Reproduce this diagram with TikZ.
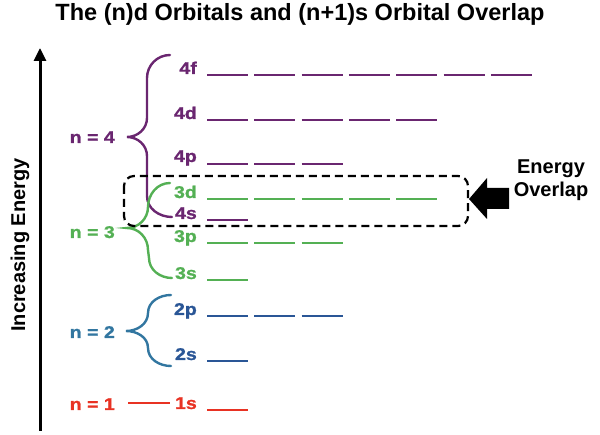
\documentclass[tikz,border=0pt]{standalone}
\usepackage{fontspec}
\setmainfont{Liberation Sans}
\newfontfamily\lblfont[FakeStretch=1.15, FakeBold=1.2]{Liberation Sans}
\usepackage{xcolor}
\usetikzlibrary{arrows.meta}
\definecolor{nfour}{RGB}{106,38,112}
\definecolor{nthree}{RGB}{84,176,84}
\definecolor{ntwo}{RGB}{50,118,160}
\definecolor{ntwoorb}{RGB}{42,86,150}
\definecolor{none}{RGB}{232,50,35}

\begin{document}
\begin{tikzpicture}[x=1pt, y=-1pt,
  lbl/.style={inner sep=0pt, anchor=base east, font=\fontsize{17}{20}\lblfont\bfseries},
  orb/.style={line width=2.6pt},
  brace/.style={line width=2.4pt, line cap=round}]
\useasboundingbox (0,0) rectangle (600,435);
% Title and axis
\node[inner sep=0pt, font=\fontsize{23.5}{26}\selectfont\bfseries] (title) at (300,14) {The (n)d Orbitals and (n+1)s Orbital Overlap};
\coordinate (ebot) at (40,431);
\coordinate (etop) at (40,48);
\draw[line width=3pt, -{Triangle[width=12pt,length=13pt]}] (ebot) -- (etop);
\node[inner sep=0pt, rotate=90, font=\fontsize{20}{23}\selectfont\bfseries] (energy) at (20,245) {Increasing Energy};
% Shell labels
\node[lbl, nfour] (n4) at (115,143) {n = 4};
\node[lbl, nthree] (n3) at (115,238) {n = 3};
\node[lbl, ntwo] (n2) at (115,338) {n = 2};
\node[lbl, none] (n1) at (115,410) {n = 1};
% Orbital labels
\node[lbl, nfour] (o4f) at (197,74) {4f};
\node[lbl, nfour] (o4d) at (197,119) {4d};
\node[lbl, nfour] (o4p) at (197,162) {4p};
\node[lbl, nthree] (o3d) at (197,198) {3d};
\node[lbl, nfour] (o4s) at (197,219) {4s};
\node[lbl, nthree] (o3p) at (197,242) {3p};
\node[lbl, nthree] (o3s) at (197,279) {3s};
\node[lbl, ntwoorb] (o2p) at (197,315) {2p};
\node[lbl, ntwoorb] (o2s) at (197,360) {2s};
\node[lbl, none] (o1s) at (197,409) {1s};
% Orbital levels
\foreach \y/\k/\c in {75/6/nfour, 120/4/nfour, 164/2/nfour, 199/4/nthree, 220/0/nfour,
    243/2/nthree, 280/0/nthree, 316/2/ntwoorb, 361/0/ntwoorb, 410/0/none}
  \foreach \i in {0,...,\k}
    \draw[orb, \c] (207+47.3*\i,\y) -- ++(41,0);
% Braces
\draw[brace, nfour] (170,55) to[out=180,in=90] (147,78) -- (147,118) to[out=-90,in=0] (127,137)
  to[out=0,in=90] (147,156) -- (147,196) to[out=-90,in=180] (172,217);
\draw[brace, nthree] (170,183) to[out=180,in=90] (148,207) to[out=-90,in=0] (127,228)
  to[out=0,in=90] (148,250) -- (149,258) to[out=-90,in=180] (172,278);
\draw[brace, ntwo] (171,295) to[out=180,in=90] (148,313) to[out=-90,in=0] (126,331)
  to[out=0,in=90] (148,348) to[out=-90,in=180] (171,366);
\coordinate (n1a) at (128,403);
\coordinate (n1b) at (170,403);
\draw[line width=2pt, none] (n1a) -- (n1b);
% Overlap box and arrow
\draw[line width=2.2pt, dash pattern=on 8pt off 5pt, rounded corners=10pt] (124,176) rectangle (468,226);
\fill (469,199) -- (487,178) -- (487,188) -- (509,188) -- (509,209) -- (487,209) -- (487,219) -- cycle;
\node[inner sep=0pt, align=center, anchor=base, font=\fontsize{20}{23}\selectfont\bfseries] (overlap) at (551,197) {Energy\\Overlap};
\end{tikzpicture}
\end{document}
